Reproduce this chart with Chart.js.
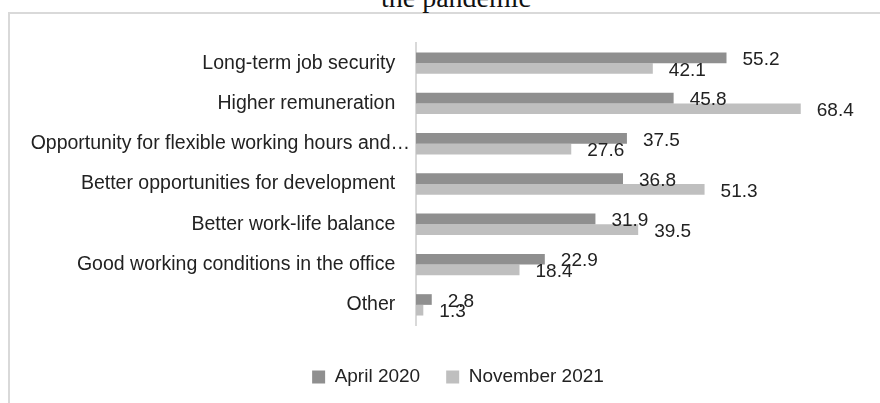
<!DOCTYPE html>
<html>
<head>
<meta charset="utf-8">
<script src="https://cdn.jsdelivr.net/npm/chart.js@4.4.1/dist/chart.umd.min.js"></script>
<style>
  body { margin: 0; background: #fff; overflow: hidden; }
  #wrap { position: relative; width: 880px; height: 403px; overflow: hidden; }
  #frame { position: absolute; left: 8px; top: 12px; width: 900px; height: 420px;
           border-top: 2px solid #d9d9d9; border-left: 2px solid #d9d9d9; }
  #title { position: absolute; left: 0; width: 912px; top: -16px; text-align: center;
           font: 28px/28px "Liberation Serif", serif; color: #111; }
  #chart { position: absolute; left: 0; top: 0; }
</style>
</head>
<body>
<div id="wrap">
  <div id="frame"></div>
  <div id="title">the pandemic</div>
  <canvas id="chart" width="880" height="403"></canvas>
</div>
<script>
var categories = [
  'Long-term job security',
  'Higher remuneration',
  'Opportunity for flexible working hours and…',
  'Better opportunities for development',
  'Better work-life balance',
  'Good working conditions in the office',
  'Other'
];
var april2020 = [55.2, 45.8, 37.5, 36.8, 31.9, 22.9, 2.8];
var november2021 = [42.1, 68.4, 27.6, 51.3, 39.5, 18.4, 1.3];

var textColor = '#222222';
var fontFamily = '"Liberation Sans", Arial, sans-serif';

// value printed just right of each bar end
var barValueLabels = {
  id: 'barValueLabels',
  afterDatasetsDraw: function(chart) {
    var ctx = chart.ctx;
    ctx.save();
    ctx.font = '19px ' + fontFamily;
    ctx.fillStyle = textColor;
    ctx.textAlign = 'left';
    ctx.textBaseline = 'middle';
    chart.data.datasets.forEach(function(ds, i) {
      chart.getDatasetMeta(i).data.forEach(function(bar, j) {
        ctx.fillText(ds.data[j].toFixed(1), bar.x + 16, bar.y + 2);
      });
    });
    ctx.restore();
  }
};

// legend is centred on the whole frame, not on the canvas edge
var legendShift = {
  id: 'legendShift',
  afterLayout: function(chart) {
    chart.legend.left = 50;
  }
};

var chart = new Chart(document.getElementById('chart'), {
  type: 'bar',
  data: {
    labels: categories,
    datasets: [
      {
        label: 'April 2020',
        data: april2020,
        backgroundColor: '#8f8f8f',
        categoryPercentage: 0.53,
        barPercentage: 1
      },
      {
        label: 'November 2021',
        data: november2021,
        backgroundColor: '#bfbfbf',
        categoryPercentage: 0.53,
        barPercentage: 1
      }
    ]
  },
  options: {
    indexAxis: 'y',
    responsive: false,
    animation: false,
    layout: { padding: { left: 0, right: 14, top: 43, bottom: 6.5 } },
    scales: {
      x: {
        min: 0,
        max: 80,
        grid: { display: false },
        border: { display: false },
        ticks: { display: false },
        afterFit: function(scale) { scale.height = 16.5; }
      },
      y: {
        grid: { display: false, drawTicks: false },
        border: { display: true, color: '#d9d9d9', width: 2 },
        ticks: {
          color: textColor,
          font: { family: fontFamily, size: 19.5 },
          padding: 6,
          autoSkip: false,
          // the full-length labels sit a little further from the axis
          callback: function(v) {
            var lbl = this.getLabelForValue(v);
            return lbl.endsWith('…') ? lbl : lbl + '  \u2009';
          }
        },
        afterFit: function(scale) { scale.width = 416; }
      }
    },
    plugins: {
      legend: {
        position: 'bottom',
        labels: {
          boxWidth: 13,
          boxHeight: 13,
          padding: 26,
          color: textColor,
          font: { family: fontFamily, size: 19 }
        }
      },
      tooltip: { enabled: false }
    }
  },
  plugins: [barValueLabels, legendShift]
});
</script>
</body>
</html>
